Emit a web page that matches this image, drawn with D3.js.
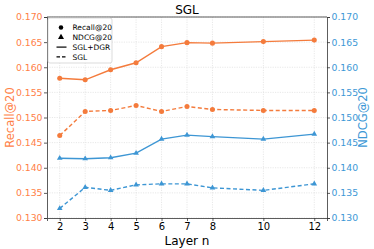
<!DOCTYPE html>
<html>
<head>
<meta charset="utf-8">
<script src="https://cdn.jsdelivr.net/npm/d3@7"></script>
<style>
  body { margin: 0; background: #fff; }
  text { font-family: "DejaVu Sans", sans-serif; }
</style>
</head>
<body>
<script>
var width = 374,
    height = 249,
    margin = {top: 17, right: 47, bottom: 31, left: 47};

var layers = [2, 3, 4, 5, 6, 7, 8, 10, 12];
var recallDGR = [0.1578, 0.1575, 0.1595, 0.1609, 0.1641, 0.1649, 0.1648, 0.1651, 0.1654];
var recallSGL = [0.1464, 0.1512, 0.1514, 0.1524, 0.1512, 0.1522, 0.1516, 0.1514, 0.1514];
var ndcgDGR = [0.1419, 0.1418, 0.1420, 0.1429, 0.1457, 0.1465, 0.1462, 0.1457, 0.1467];
var ndcgSGL = [0.1319, 0.1361, 0.1355, 0.1366, 0.1368, 0.1368, 0.1360, 0.1355, 0.1368];
var yTicks = [0.130, 0.135, 0.140, 0.145, 0.150, 0.155, 0.160, 0.165, 0.170];

var orange = "#f47b3c",
    orangeText = "#ff7f47",
    blue = "#3d96d4",
    blueText = "#3d98d6";

var svg = d3.select("body").append("svg")
    .attr("width", width)
    .attr("height", height);

var x = d3.scaleLinear().domain([1.5, 12.5]).range([margin.left, width - margin.right]),
    yL = d3.scaleLinear().domain([0.130, 0.170]).range([height - margin.bottom, margin.top]),
    yR = d3.scaleLinear().domain([0.130, 0.170]).range([height - margin.bottom, margin.top]);

// grid
var grid = svg.append("g").attr("stroke", "#d9d9d9").attr("stroke-width", 0.6).attr("stroke-dasharray", "1.2,1.2");
grid.selectAll("line.gx").data(layers).enter().append("line")
    .attr("x1", function(d) { return x(d); }).attr("x2", function(d) { return x(d); })
    .attr("y1", margin.top).attr("y2", height - margin.bottom);
grid.selectAll("line.gy").data(yTicks).enter().append("line")
    .attr("y1", function(d) { return yL(d); }).attr("y2", function(d) { return yL(d); })
    .attr("x1", margin.left).attr("x2", width - margin.right);

// axes
var xAxis = svg.append("g")
    .attr("transform", "translate(0," + (height - margin.bottom) + ")")
    .call(d3.axisBottom(x).tickValues(layers).tickSize(3).tickPadding(2));
xAxis.selectAll("text").attr("font-size", 10).attr("fill", "#000");

var leftAxis = svg.append("g")
    .attr("transform", "translate(" + margin.left + ",0)")
    .call(d3.axisLeft(yL).tickValues(yTicks).tickFormat(d3.format(".3f")).tickSize(3).tickPadding(1.5));
leftAxis.selectAll("text").attr("font-size", 9.3).attr("fill", orangeText);

var rightAxis = svg.append("g")
    .attr("transform", "translate(" + (width - margin.right) + ",0)")
    .call(d3.axisRight(yR).tickValues(yTicks).tickFormat(d3.format(".3f")).tickSize(3).tickPadding(1.5));
rightAxis.selectAll("text").attr("font-size", 9.3).attr("fill", blueText);

[xAxis, leftAxis, rightAxis].forEach(function(a) {
  a.select(".domain").attr("stroke", "#333").attr("stroke-width", 0.8);
  a.selectAll(".tick line").attr("stroke", "#333").attr("stroke-width", 0.8);
});
// top spine
svg.append("line")
    .attr("x1", margin.left).attr("x2", width - margin.right)
    .attr("y1", margin.top).attr("y2", margin.top)
    .attr("stroke", "#333").attr("stroke-width", 0.8);

// series
var series = [
  {vals: recallDGR, color: orange, dash: null, marker: "circle", y: yL},
  {vals: recallSGL, color: orange, dash: "4,2.5", marker: "circle", y: yL},
  {vals: ndcgDGR, color: blue, dash: null, marker: "triangle", y: yR},
  {vals: ndcgSGL, color: blue, dash: "4,2.5", marker: "triangle", y: yR}
];

series.forEach(function(s) {
  var line = d3.line()
      .x(function(d, i) { return x(layers[i]); })
      .y(function(d) { return s.y(d); });
  svg.append("path")
      .datum(s.vals)
      .attr("d", line)
      .attr("fill", "none")
      .attr("stroke", s.color)
      .attr("stroke-width", 1.4)
      .attr("stroke-dasharray", s.dash);
  var sym = d3.symbol()
      .type(s.marker === "circle" ? d3.symbolCircle : d3.symbolTriangle)
      .size(s.marker === "circle" ? 20 : 14);
  svg.selectAll(null)
      .data(s.vals)
      .enter().append("path")
      .attr("d", sym)
      .attr("transform", function(d, i) { return "translate(" + x(layers[i]) + "," + s.y(d) + ")"; })
      .attr("fill", s.color);
});

// labels
svg.append("text")
    .attr("x", (margin.left + width - margin.right) / 2)
    .attr("y", 14)
    .attr("text-anchor", "middle")
    .attr("font-size", 12)
    .text("SGL");

svg.append("text")
    .attr("x", (margin.left + width - margin.right) / 2)
    .attr("y", 245)
    .attr("text-anchor", "middle")
    .attr("font-size", 12)
    .text("Layer n");

svg.append("text")
    .attr("transform", "translate(14," + ((margin.top + height - margin.bottom) / 2) + ")rotate(-90)")
    .attr("text-anchor", "middle")
    .attr("font-size", 11.5)
    .attr("fill", orangeText)
    .text("Recall@20");

svg.append("text")
    .attr("transform", "translate(367," + ((margin.top + height - margin.bottom) / 2) + ")rotate(-90)")
    .attr("text-anchor", "middle")
    .attr("font-size", 11.5)
    .attr("fill", blueText)
    .text("NDCG@20");

// legend
var legend = svg.append("g").attr("transform", "translate(48,18)");
legend.append("rect")
    .attr("width", 64).attr("height", 45).attr("rx", 2)
    .attr("fill", "#fff").attr("fill-opacity", 0.85)
    .attr("stroke", "#ccc").attr("stroke-width", 0.7);

var legendItems = [
  {label: "Recall@20", kind: "circle"},
  {label: "NDCG@20", kind: "triangle"},
  {label: "SGL+DGR", kind: "solid"},
  {label: "SGL", kind: "dashed"}
];
legendItems.forEach(function(item, i) {
  var ly = 9.5 + i * 9.8;
  if (item.kind === "circle" || item.kind === "triangle") {
    legend.append("path")
        .attr("d", d3.symbol().type(item.kind === "circle" ? d3.symbolCircle : d3.symbolTriangle).size(16)())
        .attr("transform", "translate(13," + ly + ")")
        .attr("fill", "#000");
  } else {
    legend.append("line")
        .attr("x1", 8.5).attr("x2", 18.5).attr("y1", ly).attr("y2", ly)
        .attr("stroke", "#000").attr("stroke-width", 1.2)
        .attr("stroke-dasharray", item.kind === "dashed" ? "3.5,2" : null);
  }
  legend.append("text")
      .attr("x", 24.5).attr("y", ly + 2.6)
      .attr("font-size", 7.5)
      .text(item.label);
});
</script>
</body>
</html>
